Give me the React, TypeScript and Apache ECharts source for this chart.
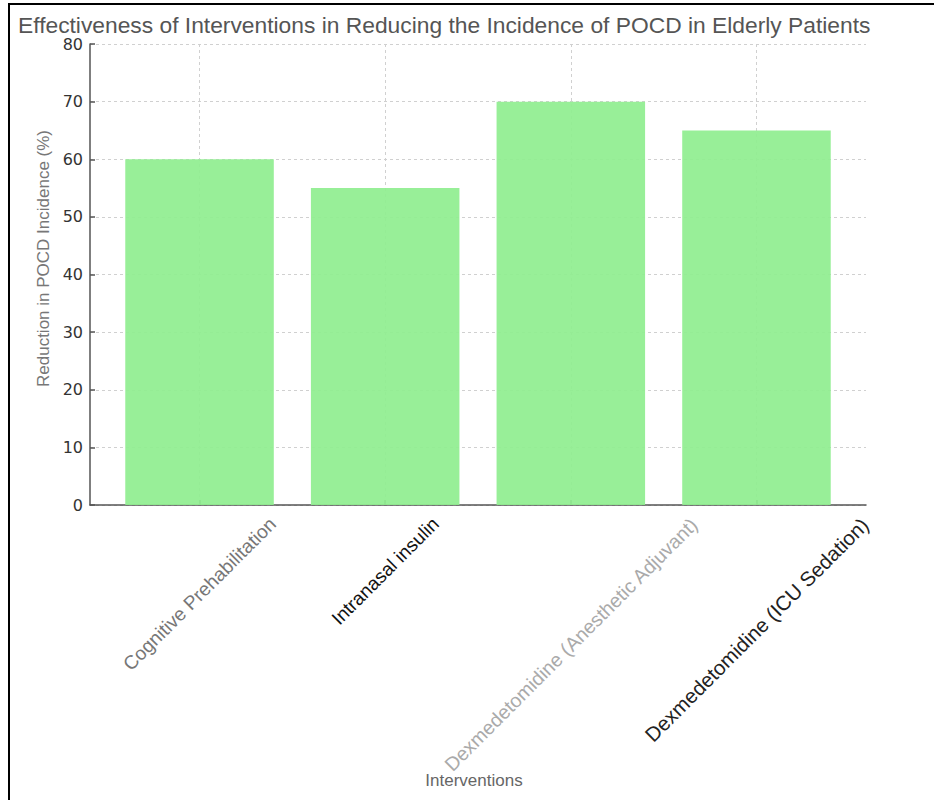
import React, { useEffect, useRef } from "react";
import * as echarts from "echarts";

const TITLE = "Effectiveness of Interventions in Reducing the Incidence of POCD in Elderly Patients";
const CATEGORIES = [
  "Cognitive Prehabilitation",
  "Intranasal insulin",
  "Dexmedetomidine (Anesthetic Adjuvant)",
  "Dexmedetomidine (ICU Sedation)",
];
const VALUES = [60, 55, 70, 65];
const Y_TICKS = [0, 10, 20, 30, 40, 50, 60, 70, 80];
const X_NAME = "Interventions";
const Y_NAME = "Reduction in POCD Incidence (%)";

const LABEL_STYLES = [
  { fontSize: 19.2, color: "#777777" },
  { fontSize: 19, color: "#111111" },
  { fontSize: 19.6, color: "#aaaaaa" },
  { fontSize: 20.5, color: "#222222" },
];
const LABEL_FONT = '"Liberation Sans", Arial, sans-serif';

function measure(text: string, size: number): number {
  const c = document.createElement("canvas").getContext("2d");
  if (!c) return text.length * size * 0.5;
  c.font = `${size}px ${LABEL_FONT}`;
  return c.measureText(text).width;
}

export default function App() {
  const ref = useRef<HTMLDivElement>(null);
  useEffect(() => {
    if (!ref.current) return;
    const chart = echarts.init(ref.current, undefined, { renderer: "svg" });
    const rich: Record<string, any> = {};
    CATEGORIES.forEach((c, i) => {
      const st = LABEL_STYLES[i];
      const w = measure(c, st.fontSize);
      const p = (w + st.fontSize) / 2;
      rich["c" + i] = {
        fontSize: st.fontSize,
        color: st.color,
        fontFamily: LABEL_FONT,
        padding: [p, p, 0, 0],
      };
    });
    const option: any = {
      animation: false,
      backgroundColor: "#ffffff",
      title: {
        text: TITLE,
        left: 13,
        top: 8,
        textStyle: {
          fontFamily: LABEL_FONT,
          fontSize: 22.8,
          fontWeight: "normal",
          color: "#555555",
        },
      },
      graphic: [
        {
          type: "polyline",
          shape: { points: [[9, 800], [9, 4], [934, 4]] },
          style: { stroke: "#000000", lineWidth: 2, fill: null },
          silent: true,
        },
      ],
      grid: {
        left: 90,
        right: 68,
        top: 44,
        bottom: 295,
        containLabel: false,
        outerBoundsMode: "none",
      },
      xAxis: {
        type: "value",
        min: -0.59,
        max: 3.59,
        splitNumber: 4,
        name: X_NAME,
        nameLocation: "middle",
        nameGap: 267,
        nameMoveOverlap: false,
        nameTextStyle: {
          fontFamily: LABEL_FONT,
          fontSize: 17,
          color: "#666666",
          padding: [0, 8, 0, 0],
        },
        axisLine: { show: true, onZero: false, lineStyle: { color: "#555555", width: 1.5 } },
        axisTick: {
          show: true,
          inside: true,
          length: 5,
          customValues: [0, 1, 2, 3],
          lineStyle: { color: "#555555", width: 1.5 },
        },
        axisLabel: {
          show: true,
          rotate: 45,
          align: "center",
          verticalAlign: "middle",
          margin: 9,
          hideOverlap: false,
          customValues: [0, 1, 2, 3],
          formatter: (v: number) => {
            const i = Math.round(v);
            if (Math.abs(v - i) > 1e-6 || i < 0 || i >= CATEGORIES.length) return "";
            return `{c${i}|${CATEGORIES[i]}}`;
          },
          rich,
        },
        splitLine: {
          show: true,
          lineStyle: { color: "#d0d0d0", type: [3, 3], width: 1 },
        },
      },
      yAxis: {
        type: "value",
        min: Y_TICKS[0],
        max: Y_TICKS[Y_TICKS.length - 1],
        interval: Y_TICKS[1] - Y_TICKS[0],
        name: Y_NAME,
        nameLocation: "middle",
        nameGap: 38,
        nameMoveOverlap: false,
        nameTextStyle: {
          fontFamily: LABEL_FONT,
          fontSize: 17,
          color: "#777777",
          padding: [0, 0, 0, 32],
        },
        axisLine: { show: true, onZero: false, lineStyle: { color: "#555555", width: 1.5 } },
        axisTick: { show: true, inside: true, length: 5, lineStyle: { color: "#555555", width: 1.5 } },
        axisLabel: {
          margin: 7,
          fontFamily: '"DejaVu Sans", sans-serif',
          fontSize: 16,
          color: "#333333",
        },
        splitLine: {
          show: true,
          lineStyle: { color: "#d0d0d0", type: [3, 3], width: 1 },
        },
      },
      series: [
        {
          type: "bar",
          data: VALUES.map((v, i) => [i, v]),
          barWidth: "80%",
          itemStyle: { color: "#90EE90", opacity: 0.93 },
        },
      ],
    };
    chart.setOption(option);
    return () => chart.dispose();
  }, []);
  return (
    <div
      ref={ref}
      style={{ position: "fixed", left: 0, top: 0, width: 934, height: 800 }}
    />
  );
}
